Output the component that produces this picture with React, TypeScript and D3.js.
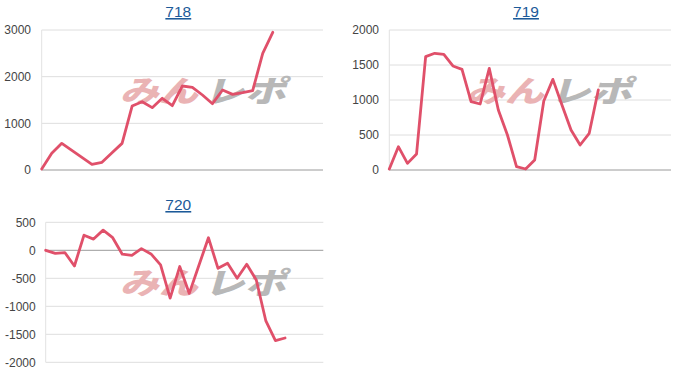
import React from "react";
import * as d3 from "d3";

const titles = ["718", "719", "720"];
const values718 = [21, 357, 571, 421, 271, 121, 164, 371, 571, 1371, 1464, 1336, 1536, 1379, 1800, 1771, 1607, 1421, 1714, 1621, 1657, 1700, 2500, 2950];
const values719 = [14, 333, 95, 229, 1619, 1667, 1652, 1486, 1438, 976, 943, 1452, 857, 500, 48, 14, 143, 986, 1295, 929, 571, 357, 524, 1143];
const values720 = [0, -55, -40, -280, 270, 200, 360, 225, -70, -90, 30, -65, -260, -855, -290, -770, -272, 225, -322, -232, -500, -250, -530, -1262, -1614, -1566];
const ticks718 = [0, 1000, 2000, 3000];
const ticks719 = [0, 500, 1000, 1500, 2000];
const ticks720 = [-2000, -1500, -1000, -500, 0, 500];

const FONT = "Arial, 'Liberation Sans', sans-serif";

type Panel = {
  title: string;
  values: number[];
  ticks: number[];
  left: number;
  right: number;
  top: number;
  bottom: number;
  slots: number;
  titleX: number;
  titleY: number;
  labelX: number;
  wmX: number;
  wmY: number;
};

const panels: Panel[] = [
  { title: titles[0], values: values718, ticks: ticks718, left: 41.7, right: 323, top: 30, bottom: 170, slots: 28, titleX: 178.3, titleY: 17, labelX: 31, wmX: 112, wmY: 102 },
  { title: titles[1], values: values719, ticks: ticks719, left: 389.3, right: 671, top: 30, bottom: 170, slots: 31, titleX: 526, titleY: 17, labelX: 379, wmX: 458, wmY: 102 },
  { title: titles[2], values: values720, ticks: ticks720, left: 45.7, right: 323.3, top: 222.3, bottom: 362.3, slots: 29, titleX: 178.3, titleY: 210, labelX: 35.7, wmX: 112, wmY: 294 },
];

function Chart({ p }: { p: Panel }) {
  const x = d3.scaleLinear().domain([0, p.slots]).range([p.left, p.right]);
  const ext = d3.extent(p.ticks) as [number, number];
  const y = d3.scaleLinear().domain(ext).range([p.bottom, p.top]);
  const line = d3
    .line<number>()
    .x((_, i) => x(i))
    .y((d) => y(d));
  return (
    <g>
      <text
        x={p.titleX}
        y={p.titleY}
        textAnchor="middle"
        fontFamily={FONT}
        fontSize={15.5}
        fill="#1c5a99"
        textDecoration="underline"
      >
        {p.title}
      </text>
      {p.ticks.map((t) => (
        <line
          key={"g" + t}
          x1={p.left}
          x2={p.right}
          y1={y(t)}
          y2={y(t)}
          stroke={t === 0 ? "#9a9a9a" : "#dedede"}
          strokeWidth={1}
        />
      ))}
      <line x1={p.left} x2={p.left} y1={p.top} y2={p.bottom} stroke="#e2e2e2" strokeWidth={1} />
      {p.ticks.map((t) => (
        <text
          key={"l" + t}
          x={p.labelX}
          y={y(t)}
          dy="0.35em"
          textAnchor="end"
          fontFamily={FONT}
          fontSize={12}
          fill="#444"
        >
          {t}
        </text>
      ))}
      <g transform={`translate(${p.wmX},${p.wmY}) skewX(-16)`} fontFamily="'Noto Sans CJK JP', sans-serif" fontWeight={900} fontSize={30}>
        <text x={8} y={0} fill="#eab3b4" textLength={78} lengthAdjust="spacingAndGlyphs">
          みん
        </text>
        <text x={92} y={0} fill="#b8b8b8" textLength={82} lengthAdjust="spacingAndGlyphs">
          レポ
        </text>
      </g>
      <path d={line(p.values) || ""} fill="none" stroke="#e0506a" strokeWidth={2.8} strokeLinejoin="round" strokeLinecap="round" />
    </g>
  );
}

export default function App() {
  return (
    <svg
      width={700}
      height={386}
      viewBox="0 0 700 386"
      style={{ position: "absolute", left: 0, top: 0, background: "#fff" }}
    >
      {panels.map((p) => (
        <Chart key={p.title} p={p} />
      ))}
    </svg>
  );
}
